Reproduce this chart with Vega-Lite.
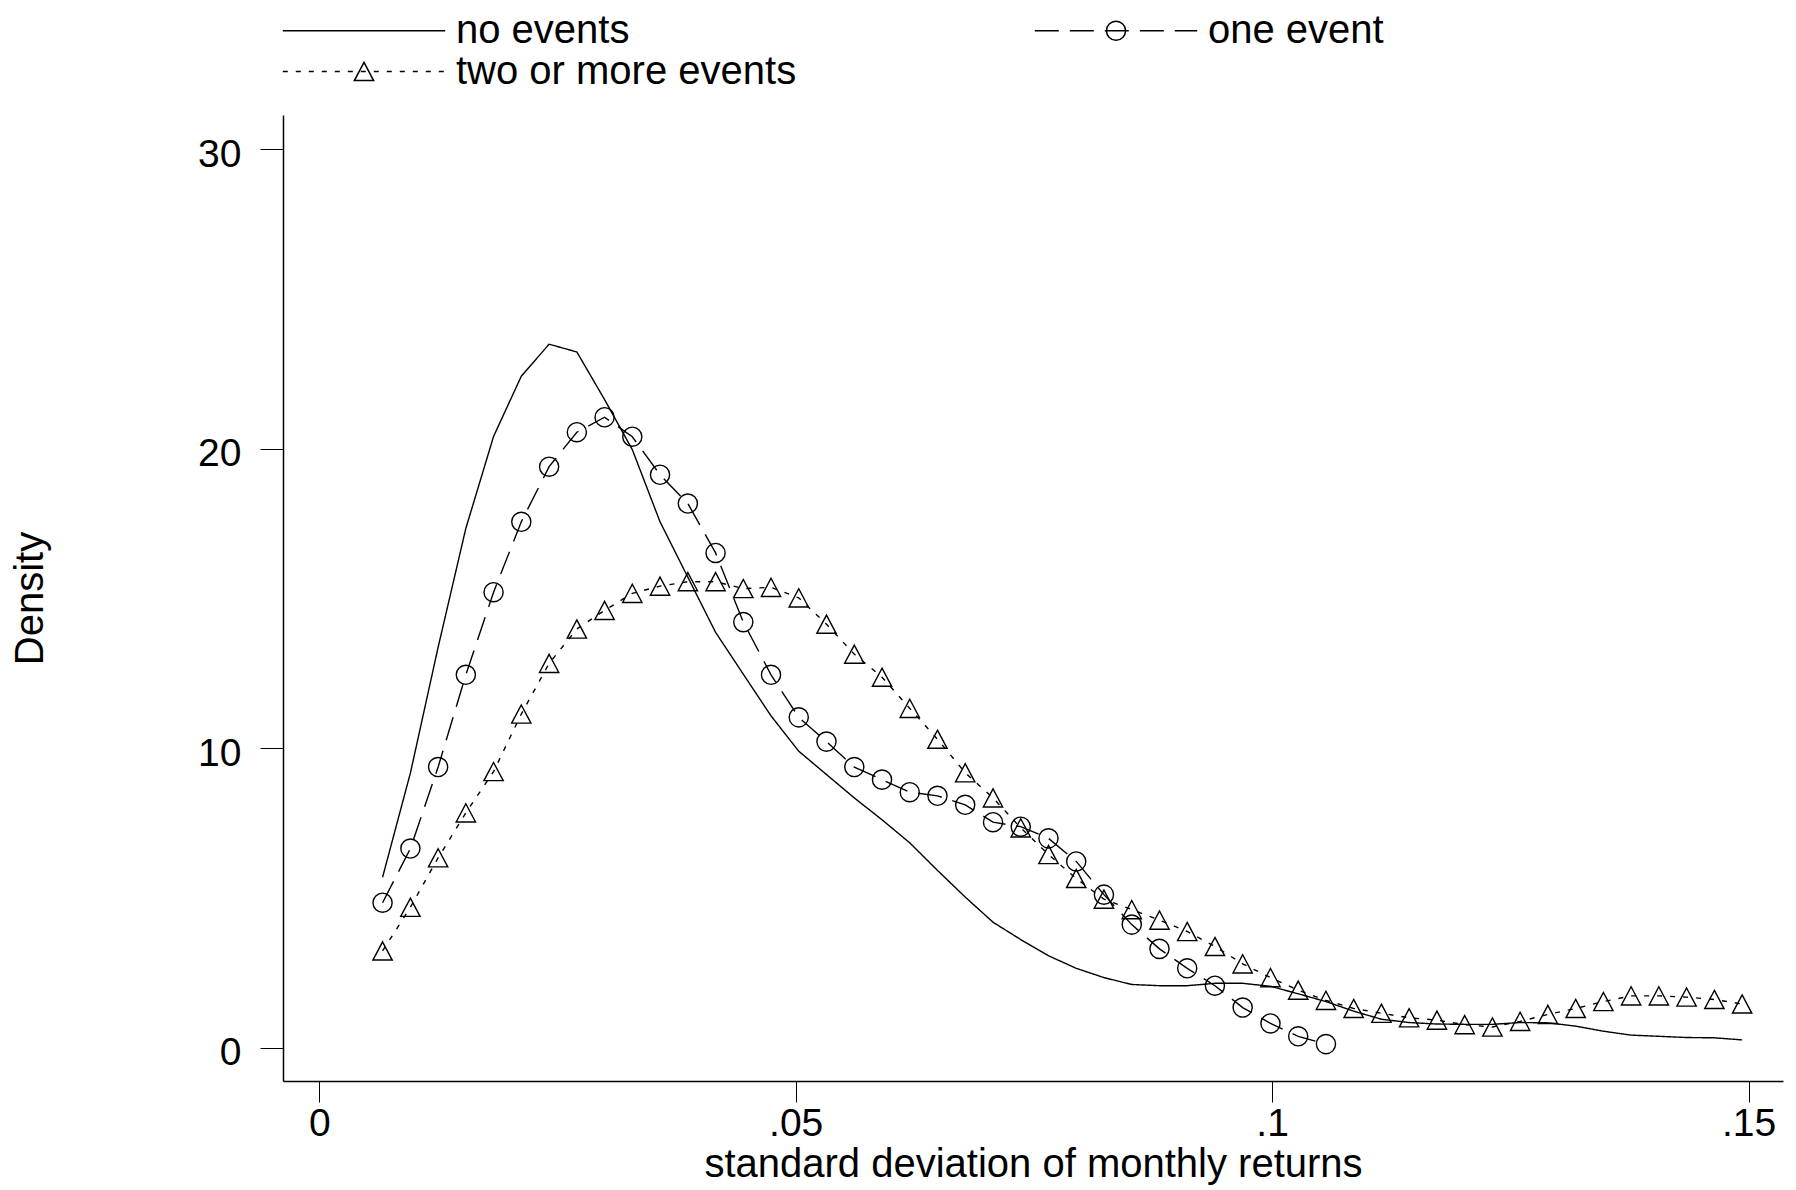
{
"$schema": "https://vega.github.io/schema/vega-lite/v6.json",
"autosize": {"type": "none"},
"padding": {"left": 283, "top": 115, "right": 13, "bottom": 109},
"width": 1500,
"height": 966,
"background": "white",
"config": {"view": {"stroke": null}, "font": "Liberation Sans", "text": {"font": "Liberation Sans"}},
"data": {"values": [
{"group":"no events","sd":0.00664,"density":5.69},{"group":"no events","sd":0.00956,"density":9.17},{"group":"no events","sd":0.01247,"density":13.37},{"group":"no events","sd":0.01538,"density":17.34},{"group":"no events","sd":0.01829,"density":20.41},{"group":"no events","sd":0.02120,"density":22.42},{"group":"no events","sd":0.02412,"density":23.49},{"group":"no events","sd":0.02703,"density":23.23},{"group":"no events","sd":0.02994,"density":21.64},{"group":"no events","sd":0.03285,"density":19.97},
{"group":"no events","sd":0.03576,"density":17.56},{"group":"no events","sd":0.03868,"density":15.71},{"group":"no events","sd":0.04159,"density":13.87},{"group":"no events","sd":0.04450,"density":12.47},{"group":"no events","sd":0.04741,"density":11.08},{"group":"no events","sd":0.05032,"density":9.90},{"group":"no events","sd":0.05323,"density":9.12},{"group":"no events","sd":0.05615,"density":8.34},{"group":"no events","sd":0.05906,"density":7.61},{"group":"no events","sd":0.06197,"density":6.84},
{"group":"no events","sd":0.06488,"density":5.92},{"group":"no events","sd":0.06779,"density":5.03},{"group":"no events","sd":0.07071,"density":4.19},{"group":"no events","sd":0.07362,"density":3.61},{"group":"no events","sd":0.07653,"density":3.07},{"group":"no events","sd":0.07944,"density":2.65},{"group":"no events","sd":0.08235,"density":2.34},{"group":"no events","sd":0.08527,"density":2.11},{"group":"no events","sd":0.08818,"density":2.07},{"group":"no events","sd":0.09109,"density":2.07},
{"group":"no events","sd":0.09400,"density":2.15},{"group":"no events","sd":0.09691,"density":2.15},{"group":"no events","sd":0.09983,"density":2.05},{"group":"no events","sd":0.10274,"density":1.80},{"group":"no events","sd":0.10565,"density":1.54},{"group":"no events","sd":0.10856,"density":1.22},{"group":"no events","sd":0.11147,"density":0.95},{"group":"no events","sd":0.11438,"density":0.84},{"group":"no events","sd":0.11730,"density":0.79},{"group":"no events","sd":0.12021,"density":0.78},
{"group":"no events","sd":0.12312,"density":0.78},{"group":"no events","sd":0.12603,"density":0.84},{"group":"no events","sd":0.12894,"density":0.83},{"group":"no events","sd":0.13186,"density":0.72},{"group":"no events","sd":0.13477,"density":0.55},{"group":"no events","sd":0.13768,"density":0.42},{"group":"no events","sd":0.14059,"density":0.38},{"group":"no events","sd":0.14350,"density":0.34},{"group":"no events","sd":0.14642,"density":0.33},{"group":"no events","sd":0.14933,"density":0.26},
{"group":"one event","sd":0.00664,"density":4.84},{"group":"one event","sd":0.00956,"density":6.65},{"group":"one event","sd":0.01247,"density":9.37},{"group":"one event","sd":0.01538,"density":12.45},{"group":"one event","sd":0.01829,"density":15.21},{"group":"one event","sd":0.02120,"density":17.56},{"group":"one event","sd":0.02412,"density":19.40},{"group":"one event","sd":0.02703,"density":20.55},{"group":"one event","sd":0.02994,"density":21.05},{"group":"one event","sd":0.03285,"density":20.40},
{"group":"one event","sd":0.03576,"density":19.13},{"group":"one event","sd":0.03868,"density":18.17},{"group":"one event","sd":0.04159,"density":16.52},{"group":"one event","sd":0.04450,"density":14.21},{"group":"one event","sd":0.04741,"density":12.45},{"group":"one event","sd":0.05032,"density":11.03},{"group":"one event","sd":0.05323,"density":10.22},{"group":"one event","sd":0.05615,"density":9.37},{"group":"one event","sd":0.05906,"density":8.95},{"group":"one event","sd":0.06197,"density":8.53},
{"group":"one event","sd":0.06488,"density":8.41},{"group":"one event","sd":0.06779,"density":8.11},{"group":"one event","sd":0.07071,"density":7.53},{"group":"one event","sd":0.07362,"density":7.38},{"group":"one event","sd":0.07653,"density":6.99},{"group":"one event","sd":0.07944,"density":6.22},{"group":"one event","sd":0.08235,"density":5.11},{"group":"one event","sd":0.08527,"density":4.11},{"group":"one event","sd":0.08818,"density":3.30},{"group":"one event","sd":0.09109,"density":2.65},
{"group":"one event","sd":0.09400,"density":2.07},{"group":"one event","sd":0.09691,"density":1.34},{"group":"one event","sd":0.09983,"density":0.81},{"group":"one event","sd":0.10274,"density":0.38},{"group":"one event","sd":0.10565,"density":0.12},
{"group":"two or more events","sd":0.00664,"density":3.23},{"group":"two or more events","sd":0.00956,"density":4.69},{"group":"two or more events","sd":0.01247,"density":6.34},{"group":"two or more events","sd":0.01538,"density":7.84},{"group":"two or more events","sd":0.01829,"density":9.22},{"group":"two or more events","sd":0.02120,"density":11.14},{"group":"two or more events","sd":0.02412,"density":12.83},{"group":"two or more events","sd":0.02703,"density":13.98},{"group":"two or more events","sd":0.02994,"density":14.60},{"group":"two or more events","sd":0.03285,"density":15.17},
{"group":"two or more events","sd":0.03576,"density":15.41},{"group":"two or more events","sd":0.03868,"density":15.56},{"group":"two or more events","sd":0.04159,"density":15.56},{"group":"two or more events","sd":0.04450,"density":15.33},{"group":"two or more events","sd":0.04741,"density":15.37},{"group":"two or more events","sd":0.05032,"density":15.02},{"group":"two or more events","sd":0.05323,"density":14.14},{"group":"two or more events","sd":0.05615,"density":13.14},{"group":"two or more events","sd":0.05906,"density":12.37},{"group":"two or more events","sd":0.06197,"density":11.33},
{"group":"two or more events","sd":0.06488,"density":10.30},{"group":"two or more events","sd":0.06779,"density":9.18},{"group":"two or more events","sd":0.07071,"density":8.34},{"group":"two or more events","sd":0.07362,"density":7.34},{"group":"two or more events","sd":0.07653,"density":6.45},{"group":"two or more events","sd":0.07944,"density":5.65},{"group":"two or more events","sd":0.08235,"density":4.96},{"group":"two or more events","sd":0.08527,"density":4.61},{"group":"two or more events","sd":0.08818,"density":4.26},{"group":"two or more events","sd":0.09109,"density":3.88},
{"group":"two or more events","sd":0.09400,"density":3.38},{"group":"two or more events","sd":0.09691,"density":2.80},{"group":"two or more events","sd":0.09983,"density":2.34},{"group":"two or more events","sd":0.10274,"density":1.92},{"group":"two or more events","sd":0.10565,"density":1.58},{"group":"two or more events","sd":0.10856,"density":1.31},{"group":"two or more events","sd":0.11147,"density":1.15},{"group":"two or more events","sd":0.11438,"density":1.00},{"group":"two or more events","sd":0.11730,"density":0.92},{"group":"two or more events","sd":0.12021,"density":0.77},
{"group":"two or more events","sd":0.12312,"density":0.69},{"group":"two or more events","sd":0.12603,"density":0.88},{"group":"two or more events","sd":0.12894,"density":1.11},{"group":"two or more events","sd":0.13186,"density":1.31},{"group":"two or more events","sd":0.13477,"density":1.54},{"group":"two or more events","sd":0.13768,"density":1.73},{"group":"two or more events","sd":0.14059,"density":1.73},{"group":"two or more events","sd":0.14350,"density":1.69},{"group":"two or more events","sd":0.14642,"density":1.61},{"group":"two or more events","sd":0.14933,"density":1.46}
]},
"encoding": {
  "x": {"field": "sd", "type": "quantitative",
    "scale": {"domain": [-0.00381, 0.15362], "nice": false, "zero": false},
    "axis": {"values": [0, 0.05, 0.1, 0.15], "labelExpr": "replace(format(datum.value, '~g'), '0.', '.')",
      "grid": false, "tickSize": 21, "tickColor": "black", "tickWidth": 1, "domainColor": "black", "domainWidth": 1.5,
      "labelFont": "Liberation Sans", "labelFontSize": 39, "labelColor": "black", "labelBaseline": "alphabetic", "labelPadding": 33,
      "labelFlush": false, "labelOverlap": false,
      "title": "standard deviation of monthly returns", "titleFont": "Liberation Sans", "titleFontSize": 40, "titleFontWeight": "normal",
      "titleColor": "black", "titleBaseline": "alphabetic", "titleY": 95}},
  "y": {"field": "density", "type": "quantitative",
    "scale": {"domain": [-1.112, 31.142], "nice": false, "zero": false},
    "axis": {"values": [0, 10, 20, 30], "grid": false, "tickSize": 23, "tickColor": "black", "tickWidth": 1,
      "domainColor": "black", "domainWidth": 1.5,
      "labelFont": "Liberation Sans", "labelFontSize": 39, "labelColor": "black", "labelBaseline": "alphabetic", "labelOffset": 17,
      "labelPadding": 19, "labelFlush": false, "labelOverlap": false,
      "title": "Density", "titleFont": "Liberation Sans", "titleFontSize": 40, "titleFontWeight": "normal",
      "titleColor": "black", "titleBaseline": "alphabetic", "titleX": -241}}
},
"layer": [
  {"mark": {"type": "line", "color": "black", "strokeWidth": 1.4},
   "encoding": {
     "strokeDash": {"field": "group", "type": "nominal",
       "scale": {"range": [[1, 0], [24, 11], [5, 8]]},
       "legend": {"title": null, "orient": "none", "direction": "horizontal", "legendX": -1, "legendY": -104, "columns": 2, "columnPadding": 237, "rowPadding": 0,
         "padding": 0, "clipHeight": 39, "symbolType": "stroke", "symbolSize": 26374, "symbolStrokeWidth": 1.5, "symbolStrokeColor": "black",
         "labelFont": "Liberation Sans", "labelFontSize": 40, "labelColor": "black", "labelOffset": 10, "labelLimit": 600}}}},
  {"transform": [{"filter": "datum.group !== 'no events'"}],
   "mark": {"type": "point", "filled": false, "color": "black", "size": 26374, "strokeWidth": 1.4, "opacity": 1},
   "encoding": {
     "shape": {"field": "group", "type": "nominal",
       "scale": {"domain": ["no events", "one event", "two or more events"],
         "range": ["M0,0", "M0.118,0A0.118,0.118,0,1,1,-0.118,0A0.118,0.118,0,1,1,0.118,0Z", "M0,-0.112L0.119,0.112L-0.119,0.112Z"]},
       "legend": {"title": null, "orient": "none", "direction": "horizontal", "legendX": -1, "legendY": -104, "columns": 2, "columnPadding": 237, "rowPadding": 0,
         "padding": 0, "clipHeight": 39, "symbolSize": 26374, "symbolStrokeWidth": 1.5, "symbolStrokeColor": "black", "symbolFillColor": "transparent",
         "labelFont": "Liberation Sans", "labelFontSize": 40, "labelColor": "black", "labelOffset": 10, "labelLimit": 600, "labelOpacity": 0}}}}
]
}
